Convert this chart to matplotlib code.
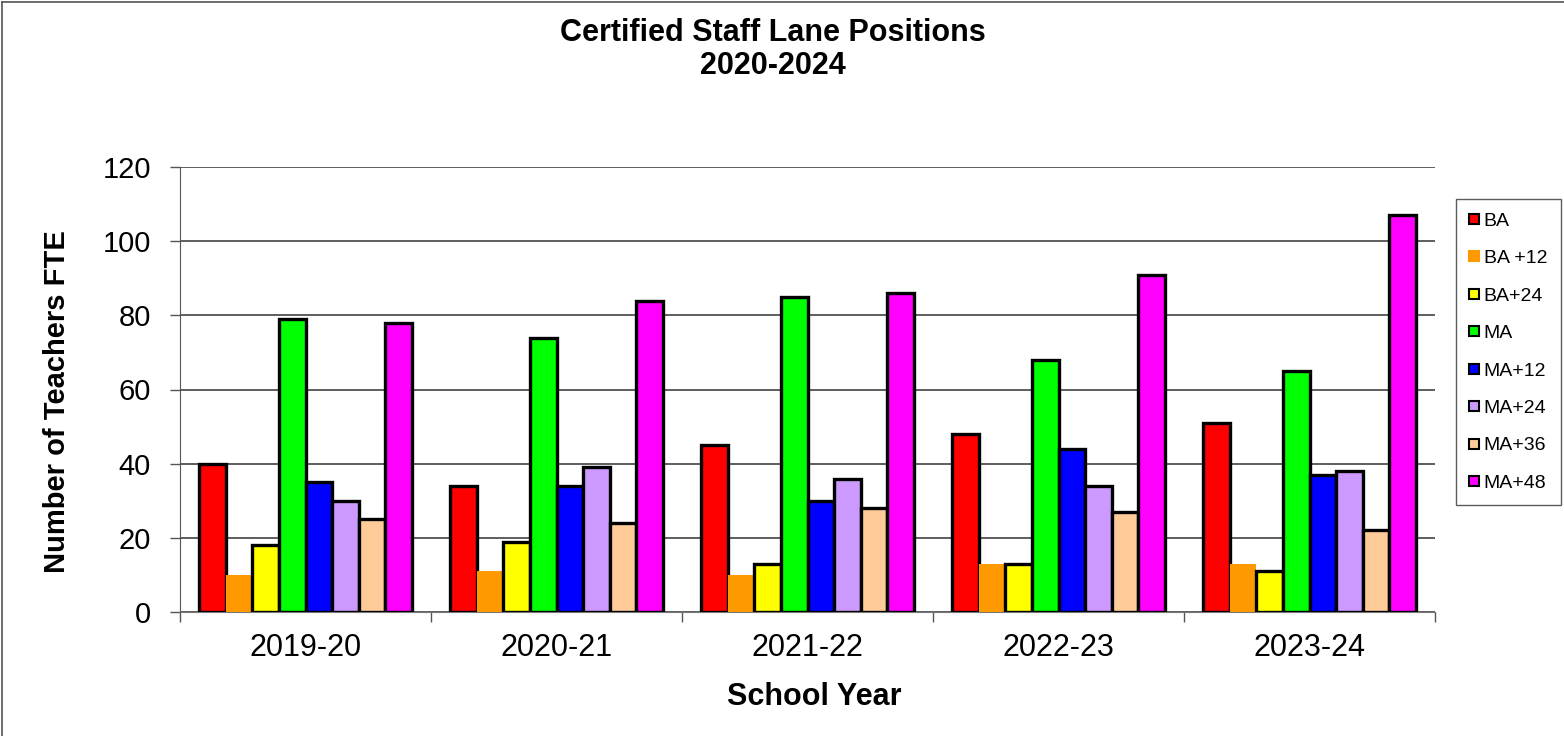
import matplotlib.pyplot as plt
from matplotlib.lines import Line2D
import numpy as np

plt.rcParams['font.family'] = ['Liberation Sans', 'DejaVu Sans']

years = ["2019-20", "2020-21", "2021-22", "2022-23", "2023-24"]
lanes = ["BA", "BA +12", "BA+24", "MA", "MA+12", "MA+24", "MA+36", "MA+48"]
colors = ["#ff0000", "#ff9900", "#ffff00", "#00ff00", "#0000ff", "#cc99ff", "#ffcc99", "#ff00ff"]

ba = [40, 34, 45, 48, 51]
ba_12 = [10, 11, 10, 13, 13]
ba_24 = [18, 19, 13, 13, 11]
ma = [79, 74, 85, 68, 65]
ma_12 = [35, 34, 30, 44, 37]
ma_24 = [30, 39, 36, 34, 38]
ma_36 = [25, 24, 28, 27, 22]
ma_48 = [78, 84, 86, 91, 107]
series = [ba, ba_12, ba_24, ma, ma_12, ma_24, ma_36, ma_48]

fig = plt.figure(figsize=(15.64, 7.36), dpi=100)
ax = fig.add_axes([180/1564, 1 - 612/736, 1255/1564, 445/736])

x = np.arange(len(years))
w = 0.845 / len(lanes)
for i, (vals, col) in enumerate(zip(series, colors)):
    # the BA +12 bars have no outline in the original
    ec = "none" if lanes[i] == "BA +12" else "black"
    ax.bar(x + (i - 3.5) * w, vals, w, color=col, edgecolor=ec, linewidth=2.4, zorder=3)

ax.set_xlim(-0.5, 4.5)
ax.set_ylim(0, 120)
ax.set_yticks(range(0, 121, 20))
ax.yaxis.grid(True, color="#333333", linewidth=1.1, zorder=0)
ax.set_xticks(x)
ax.set_xticklabels(years)
ax.set_xticks(np.arange(-0.5, 5, 1), minor=True)
ax.tick_params(axis="x", which="major", length=0, pad=15, labelsize=22)
ax.tick_params(axis="x", which="minor", length=7, width=1, color="#555555", direction="out")
ax.tick_params(axis="y", length=7, width=1, color="#555555", pad=14, labelsize=21)

for s in ["top", "right"]:
    ax.spines[s].set_visible(False)
ax.spines["left"].set_color("#555555")
ax.spines["bottom"].set_color("#777777")

fig.text(773/1564, 1 - 33/736, "Certified Staff Lane Positions",
         ha="center", va="center", fontsize=22, fontweight="bold")
fig.text(773/1564, 1 - 66/736, "2020-2024",
         ha="center", va="center", fontsize=22, fontweight="bold")
fig.text(57/1564, 1 - 402/736, "Number of Teachers FTE", rotation=90,
         ha="center", va="center", fontsize=21, fontweight="bold")
fig.text(814/1564, 1 - 697/736, "School Year",
         ha="center", va="center", fontsize=22, fontweight="bold")

handles = []
for i, col in enumerate(colors):
    ec = col if lanes[i] == "BA +12" else "black"
    handles.append(Line2D([0], [0], marker="s", linestyle="none", markersize=7,
                          markerfacecolor=col, markeredgecolor=ec, markeredgewidth=1.5))
leg = fig.legend(handles, lanes, loc="upper left",
                 bbox_to_anchor=(1456/1564, 1 - 199/736), borderaxespad=0,
                 fontsize=14, frameon=True, fancybox=False, handlelength=0.5,
                 handletextpad=0.25, labelspacing=1.02, borderpad=0.68)
leg.get_frame().set_edgecolor("#333333")
leg.get_frame().set_linewidth(1)

# outer chart border (left and top visible)
fig.add_artist(Line2D([2/1564, 2/1564], [0, 1 - 2/736], color="#555555", lw=1.2))
fig.add_artist(Line2D([2/1564, 1], [1 - 2/736, 1 - 2/736], color="#555555", lw=1.2))

plt.savefig("out.png", dpi=100)
